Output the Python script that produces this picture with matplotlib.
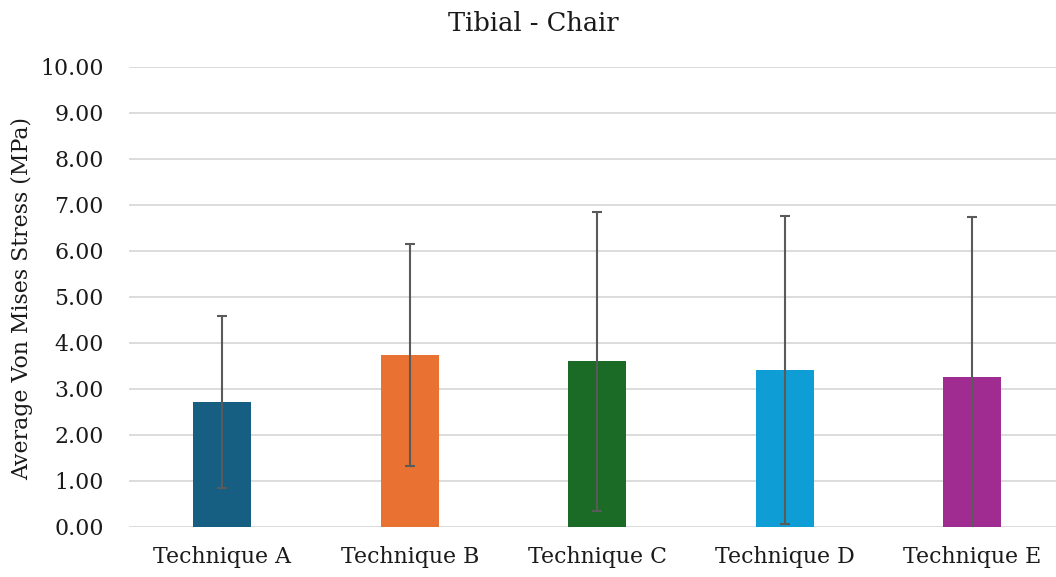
import matplotlib
matplotlib.use("Agg")
import matplotlib.pyplot as plt

# chart data
CATEGORIES = ["Technique A", "Technique B", "Technique C", "Technique D", "Technique E"]
MEANS = [2.72, 3.74, 3.60, 3.41, 3.25]
STD_DEVS = [1.87, 2.41, 3.25, 3.35, 3.49]
COLORS = ["#175f82", "#e97132", "#1b6a26", "#0f9dd5", "#a02b91"]

TICKS = [i * 1.0 for i in range(11)]

plt.rcParams["font.family"] = ["DejaVu Serif"]


def main():
    figure = plt.figure(figsize=(10.56, 5.77), dpi=100)
    axes = figure.add_axes([0.1217, 0.0867, 0.8878, 0.7972])
    _draw_bars(axes)
    _style_axes(axes)
    figure.text(0.505, 0.96, "Tibial - Chair", ha="center", va="center",
                fontsize=18.5, color="#1a1a1a")
    figure.text(0.021, 0.482, "Average Von Mises Stress (MPa)", ha="center",
                va="center", rotation=90, fontsize=15.8, color="#1a1a1a")
    figure.savefig("out.png", dpi=100)


def _draw_bars(axes):
    positions = range(len(CATEGORIES))
    axes.bar(positions, MEANS, width=0.31, color=COLORS, zorder=2)
    axes.errorbar(positions, MEANS, yerr=STD_DEVS, fmt="none",
                  ecolor="#5a5a5a", elinewidth=1.5, capsize=3.5,
                  capthick=1.5, zorder=3)


def _style_axes(axes):
    axes.set_xlim(-0.5, len(CATEGORIES) - 0.5)
    axes.set_ylim(0, 10)
    axes.set_yticks(TICKS)
    axes.set_yticklabels([f"{t:.2f}" for t in TICKS])
    axes.set_xticks(range(len(CATEGORIES)))
    axes.set_xticklabels(CATEGORIES)
    axes.tick_params(axis="both", length=0, labelsize=15.8, colors="#1a1a1a")
    axes.tick_params(axis="y", pad=18)
    axes.tick_params(axis="x", pad=14)
    axes.grid(axis="y", color="#d9d9d9", linewidth=1.3, zorder=0)
    axes.set_axisbelow(True)
    for side in ("top", "right", "left", "bottom"):
        axes.spines[side].set_visible(False)


main()
